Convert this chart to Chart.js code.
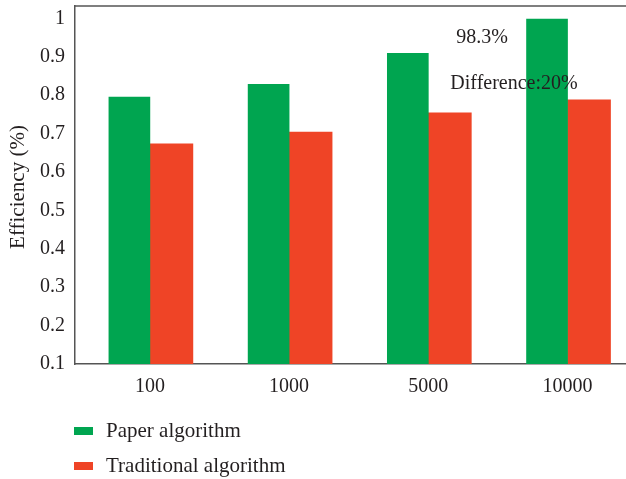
<!DOCTYPE html>
<html>
<head>
<meta charset="utf-8">
<script src="https://cdn.jsdelivr.net/npm/chart.js@4"></script>
<style>
    body { margin: 0; background: #fff; }
    #wrap { width: 626px; height: 479px; position: relative; }
</style>
</head>
<body>
<div id="wrap"><canvas id="efficiencyChart"></canvas></div>
<script>
const categories = ['100', '1000', '5000', '10000'];
const paperValues = [0.795, 0.828, 0.909, 0.998];
const traditionalValues = [0.673, 0.704, 0.754, 0.788];
const yTicks = [0.1, 0.2, 0.3, 0.4, 0.5, 0.6, 0.7, 0.8, 0.9, 1];
const notes = [
    {text: '98.3%', x: 482, y: 38},
    {text: 'Difference:20%', x: 514, y: 84}
];

const textColor = '#231f20';
const axisColor = '#555';
const font = 'Liberation Serif, Times New Roman, serif';

// top frame line, y title, notes and the stacked legend
const extrasPlugin = {
    id: 'extras',
    afterDraw(chart) {
        const ctx = chart.ctx;
        const area = chart.chartArea;
        ctx.save();
        ctx.strokeStyle = axisColor;
        ctx.lineWidth = 1.5;
        ctx.beginPath();
        ctx.moveTo(area.left, area.top);
        ctx.lineTo(area.right, area.top);
        ctx.stroke();

        ctx.fillStyle = textColor;
        ctx.font = '21px ' + font;
        ctx.textAlign = 'center';
        ctx.textBaseline = 'middle';
        ctx.save();
        ctx.translate(18, 187);
        ctx.rotate(-Math.PI / 2);
        ctx.fillText('Efficiency (%)', 0, 0);
        ctx.restore();

        ctx.font = '20px ' + font;
        notes.forEach(n => ctx.fillText(n.text, n.x, n.y));

        ctx.font = '21px ' + font;
        ctx.textAlign = 'left';
        chart.data.datasets.forEach((ds, i) => {
            const y = 431 + i * 35;
            ctx.fillStyle = ds.backgroundColor;
            ctx.fillRect(74, y - 4, 19, 8);
            ctx.fillStyle = textColor;
            ctx.fillText(ds.label, 106, y);
        });
        ctx.restore();
    }
};

new Chart(document.getElementById('efficiencyChart'), {
    type: 'bar',
    data: {
        datasets: [
            {
                label: 'Paper algorithm',
                data: paperValues.map((v, i) => ({x: i, y: v})),
                backgroundColor: '#00a550',
                barThickness: 41
            },
            {
                label: 'Traditional algorithm',
                data: traditionalValues.map((v, i) => ({x: i, y: v})),
                backgroundColor: '#ef4426',
                barThickness: 43
            }
        ]
    },
    options: {
        responsive: true,
        maintainAspectRatio: false,
        animation: false,
        layout: {padding: {top: 6, left: 0, right: 0, bottom: 0}},
        plugins: {legend: {display: false}, tooltip: {enabled: false}},
        scales: {
            x: {
                type: 'linear',
                offset: false,
                min: -0.538,
                max: 3.42,
                afterBuildTicks: s => { s.ticks = categories.map((_, i) => ({value: i})); },
                afterFit: s => { s.height = 115; s.paddingLeft = 0; s.paddingRight = 0; },
                grid: {display: false, drawTicks: false},
                border: {display: true, color: axisColor, width: 1.5},
                ticks: {
                    color: textColor,
                    font: {family: font, size: 20},
                    padding: 11,
                    maxRotation: 0,
                    callback: v => categories[v]
                }
            },
            y: {
                min: 0.1,
                max: 1.032,
                afterBuildTicks: s => { s.ticks = yTicks.map(v => ({value: v})); },
                afterFit: s => { s.width = 75; s.paddingTop = 0; s.paddingBottom = 0; },
                grid: {display: false, drawTicks: false},
                border: {display: true, color: axisColor, width: 1.5},
                ticks: {
                    color: textColor,
                    font: {family: font, size: 20},
                    padding: 10,
                    callback: v => String(Number(v.toFixed(1)))
                }
            }
        }
    },
    plugins: [extrasPlugin]
});
</script>
</body>
</html>
